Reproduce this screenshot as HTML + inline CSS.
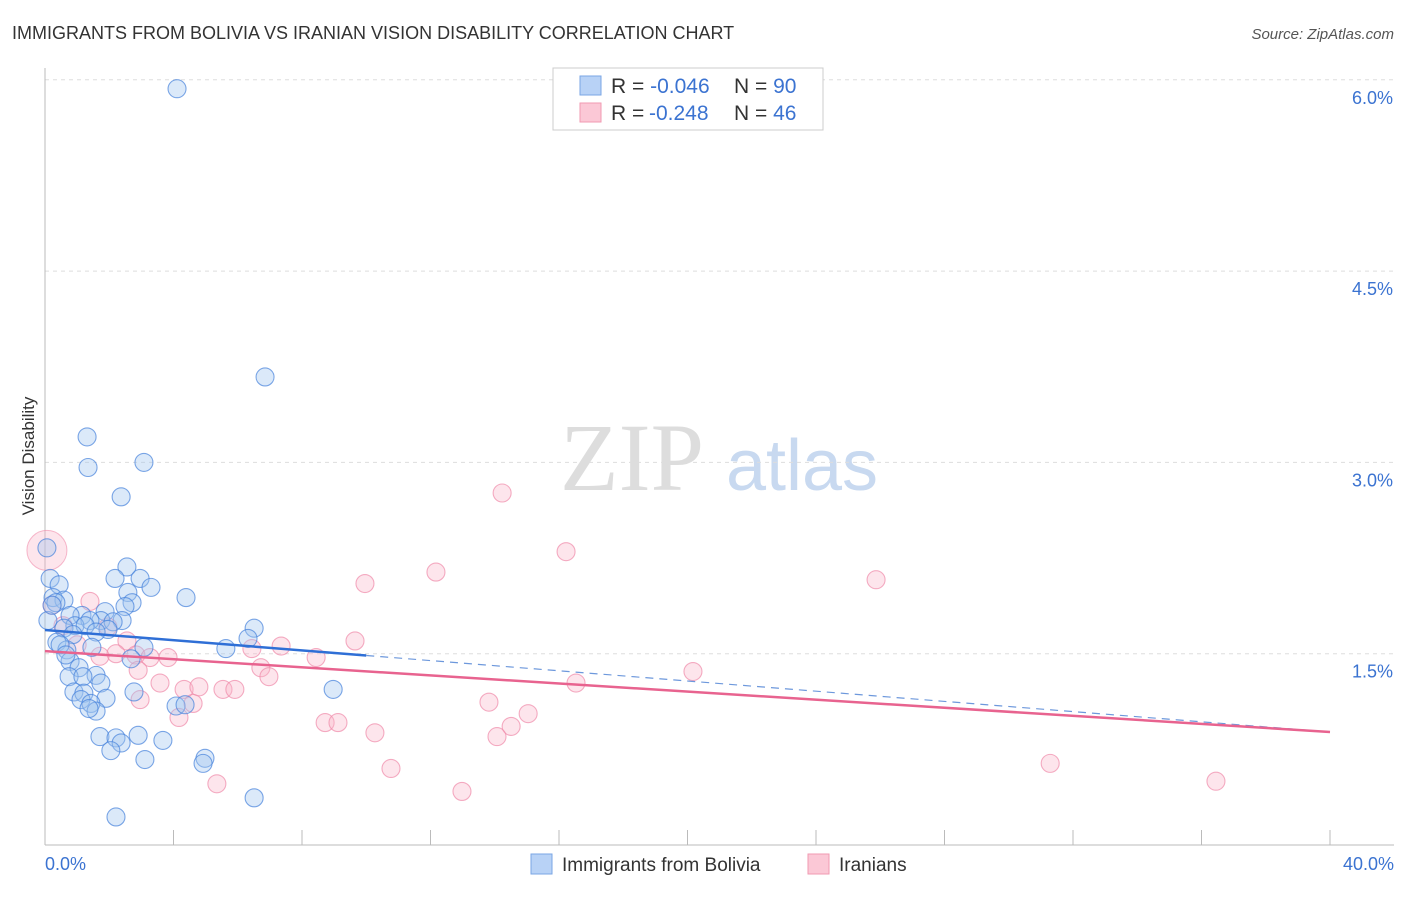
<!DOCTYPE html>
<html><head><meta charset="utf-8"><style>
body{margin:0;background:#fff;width:1406px;height:892px;overflow:hidden;font-family:"Liberation Sans",sans-serif}
</style></head><body>
<svg id="chart" width="1406" height="892" xmlns="http://www.w3.org/2000/svg">
<text x="12" y="39" font-size="18" fill="#333">IMMIGRANTS FROM BOLIVIA VS IRANIAN VISION DISABILITY CORRELATION CHART</text>
<text x="1394" y="39" font-size="15" fill="#555" font-style="italic" text-anchor="end">Source: ZipAtlas.com</text>
<text transform="translate(34,456) rotate(-90)" font-size="17" fill="#333" text-anchor="middle">Vision Disability</text>
<g><text x="632" y="490" font-size="96" font-family="Liberation Serif,serif" fill="#ddd" text-anchor="middle">ZIP</text><text x="802" y="490" font-size="72" fill="#c8d9f0" text-anchor="middle">atlas</text></g>
<g id="grid"></g><g id="axes"></g><g id="pts"></g><g id="trend"></g>
<g>
<rect x="553" y="68" width="270" height="62" fill="#fff" stroke="#ccc"/>
<rect x="580" y="76" width="21" height="19" fill="#b8d2f6" stroke="#7aa6e4"/>
<rect x="580" y="103" width="21" height="19" fill="#fbc8d6" stroke="#f09ab2"/>
<text x="611" y="93" font-size="21" fill="#333">R = <tspan fill="#3b73d1">-0.046</tspan><tspan x="734">N = </tspan><tspan fill="#3b73d1">90</tspan></text>
<text x="611" y="120" font-size="21" fill="#333">R = <tspan fill="#3b73d1" x="649">-0.248</tspan><tspan x="734">N = </tspan><tspan fill="#3b73d1">46</tspan></text>
</g>
<g>
<rect x="531" y="854" width="21" height="20" fill="#b8d2f6" stroke="#7aa6e4"/>
<text x="562" y="871" font-size="19" fill="#333">Immigrants from Bolivia</text>
<rect x="808" y="854" width="21" height="20" fill="#fbc8d6" stroke="#f09ab2"/>
<text x="839" y="871" font-size="19" fill="#333">Iranians</text>
</g>
</svg>
<script>
const yTicks=[1.5,3.0,4.5,6.0];
const yTickLabels=["1.5%","3.0%","4.5%","6.0%"];
const xTicks=[0,4,8,12,16,20,24,28,32,36,40];
const xEndLabels=["0.0%","40.0%"];
const blueX=[4.11,6.85,1.31,3.08,1.34,2.37,0.06,2.55,2.18,2.96,0.16,0.44,3.30,4.39,2.58,0.25,0.59,0.34,2.71,2.49,1.87,1.15,0.78,1.74,2.40,1.40,2.12,0.93,1.25,0.59,6.51,1.96,1.59,0.87,6.32,0.37,3.08,5.63,0.68,1.46,2.68,0.78,1.06,1.59,0.75,1.18,1.74,0.90,2.77,8.97,1.21,1.90,1.12,1.43,1.59,1.37,4.08,4.36,1.71,2.90,2.21,3.67,2.37,2.05,4.98,4.92,3.11,6.51,2.21,0.09,0.47,0.65,0.22];
const blueY=[5.93,3.67,3.20,3.00,2.96,2.73,2.33,2.18,2.09,2.09,2.09,2.04,2.02,1.94,1.98,1.94,1.92,1.90,1.90,1.87,1.83,1.80,1.80,1.76,1.76,1.76,1.75,1.72,1.72,1.70,1.70,1.69,1.67,1.65,1.62,1.59,1.55,1.54,1.53,1.55,1.46,1.44,1.39,1.33,1.32,1.32,1.27,1.20,1.20,1.22,1.19,1.15,1.14,1.11,1.05,1.07,1.09,1.10,0.85,0.86,0.84,0.82,0.80,0.74,0.68,0.64,0.67,0.37,0.22,1.76,1.57,1.49,1.88];
const pinkX=[14.23,16.22,12.17,25.87,9.96,1.40,0.22,9.65,2.55,1.96,7.35,6.44,2.83,2.21,3.27,3.83,1.71,8.44,6.72,2.90,6.97,20.17,16.53,3.58,4.33,4.79,5.54,5.91,4.61,2.96,13.82,15.04,4.17,8.72,9.12,14.51,14.07,10.27,10.77,31.29,5.35,12.98,36.45,0.56,1.00];
const pinkY=[2.76,2.30,2.14,2.08,2.05,1.91,1.88,1.60,1.60,1.71,1.56,1.54,1.49,1.50,1.47,1.47,1.48,1.47,1.39,1.37,1.32,1.36,1.27,1.27,1.22,1.24,1.22,1.22,1.11,1.14,1.12,1.03,1.00,0.96,0.96,0.93,0.85,0.88,0.60,0.64,0.48,0.42,0.50,1.72,1.57];
const blueTrend=[1.686,0.886];
const pinkTrend=[1.52,0.886];
const xs=v=>45+v/40*1285;
const ys=v=>845-v/1.5*191.3;
const NS="http://www.w3.org/2000/svg";
function mk(tag,attrs,parent){const e=document.createElementNS(NS,tag);for(const k in attrs)e.setAttribute(k,attrs[k]);document.getElementById(parent).appendChild(e);return e;}
yTicks.forEach((t,i)=>{
 const l=mk('line',{x1:45,x2:1394,y1:ys(t),y2:ys(t),stroke:'#ddd','stroke-dasharray':'4,4'},'grid');
 
 
 const tx=mk('text',{x:1393,y:ys(t)+24,'font-size':18,fill:'#3b73d1','text-anchor':'end'},'axes');
 tx.textContent=yTickLabels[i];
 
 
});
const ax=mk('line',{x1:45,x2:1394,y1:845,y2:845,stroke:'#bbb'},'axes');


const ay=mk('line',{x1:45,x2:45,y1:68,y2:845,stroke:'#bbb'},'axes');


xTicks.forEach(t=>{
 const l=mk('line',{x1:xs(t),x2:xs(t),y1:830,y2:845,stroke:'#bbb'},'axes');
 
 
});
[[0,'start',45],[40,'end',1394]].forEach((d,i)=>{
 const tx=mk('text',{x:d[2],y:870,'font-size':18,fill:'#3b73d1','text-anchor':d[1]},'axes');
 tx.textContent=xEndLabels[i];
 
 
});
const big=mk('circle',{cx:xs(0.06),cy:ys(2.31),r:20,fill:'rgba(248,180,200,0.35)',stroke:'rgba(240,138,170,0.6)'},'pts');


pinkX.forEach((x,i)=>{
 const c=mk('circle',{cx:xs(x),cy:ys(pinkY[i]),r:9,fill:'rgba(248,180,200,0.35)',stroke:'rgba(240,138,170,0.7)','stroke-width':1.1},'pts');
 
 
});
blueX.forEach((x,i)=>{
 const c=mk('circle',{cx:xs(x),cy:ys(blueY[i]),r:9,fill:'rgba(160,196,240,0.38)',stroke:'rgba(70,130,220,0.7)','stroke-width':1.1},'pts');
 
 
});
const bAt=x=>blueTrend[0]+(blueTrend[1]-blueTrend[0])*x/40;
const b1=mk('line',{x1:xs(0),y1:ys(bAt(0)),x2:xs(10),y2:ys(bAt(10)),stroke:'#2f6fd6','stroke-width':2.5},'trend');


const b2=mk('line',{x1:xs(10),y1:ys(bAt(10)),x2:xs(40),y2:ys(bAt(40)),stroke:'#6d98dc','stroke-width':1.2,'stroke-dasharray':'8,6'},'trend');


const p=mk('line',{x1:xs(0),y1:ys(pinkTrend[0]),x2:xs(40),y2:ys(pinkTrend[1]),stroke:'#e8638f','stroke-width':2.5},'trend');


</script>
</body></html>
